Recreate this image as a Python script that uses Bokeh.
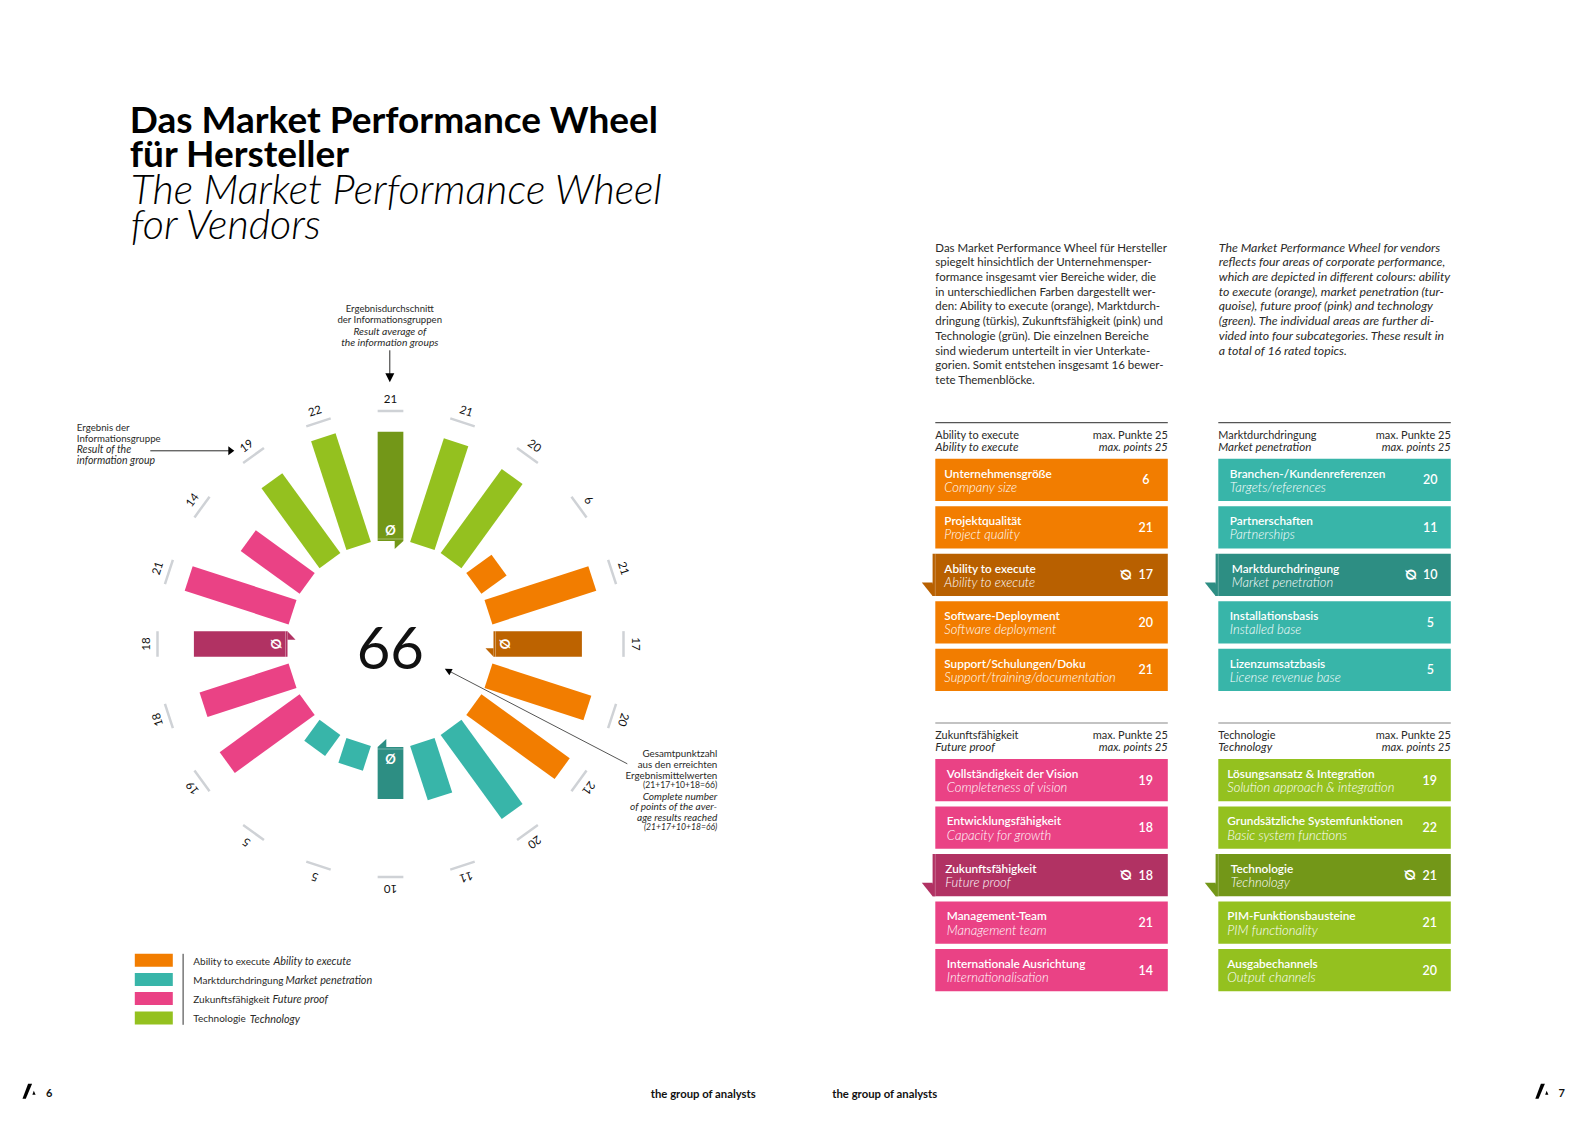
import math
from bokeh.plotting import figure
from bokeh.models import Range1d
from bokeh.core.properties import value
from bokeh.embed import file_html
from bokeh.resources import INLINE

# ---- data ----
wheel_values = [21, 21, 20, 6, 21, 17, 20, 21, 20, 11, 10, 5, 5, 19, 18, 18, 21, 14, 19, 22]
wheel_groups = ["T", "T", "T", "A", "A", "A", "A", "A", "M", "M", "M", "M", "M", "F", "F", "F", "F", "F", "T", "T"]
wheel_average = [True, False, False, False, False, True, False, False, False, False, True,
                 False, False, False, False, True, False, False, False, False]
total_score = "66"

group_colors = {"A": "#F27D00", "M": "#38B5A9", "F": "#EA4285", "T": "#94C11F"}
dark_colors = {"A": "#BD6300", "M": "#2D8E83", "F": "#B13263", "T": "#739718"}
table_dark = {"A": "#B86000", "M": "#2D8E83", "F": "#B13263", "T": "#739718"}

tables = [
    ("A", "Ability to execute", "Ability to execute",
     ["Unternehmensgröße", "Projektqualität", "Ability to execute", "Software-Deployment", "Support/Schulungen/Doku"],
     ["Company size", "Project quality", "Ability to execute", "Software deployment", "Support/training/documentation"],
     [6, 21, 17, 20, 21]),
    ("M", "Marktdurchdringung", "Market penetration",
     ["Branchen-/Kundenreferenzen", "Partnerschaften", "Marktdurchdringung", "Installationsbasis", "Lizenzumsatzbasis"],
     ["Targets/references", "Partnerships", "Market penetration", "Installed base", "License revenue base"],
     [20, 11, 10, 5, 5]),
    ("F", "Zukunftsfähigkeit", "Future proof",
     ["Vollständigkeit der Vision", "Entwicklungsfähigkeit", "Zukunftsfähigkeit", "Management-Team", "Internationale Ausrichtung"],
     ["Completeness of vision", "Capacity for growth", "Future proof", "Management team", "Internationalisation"],
     [19, 18, 18, 21, 14]),
    ("T", "Technologie", "Technology",
     ["Lösungsansatz & Integration", "Grundsätzliche Systemfunktionen", "Technologie", "PIM-Funktionsbausteine", "Ausgabechannels"],
     ["Solution approach & integration", "Basic system functions", "Technology", "PIM functionality", "Output channels"],
     [19, 22, 21, 21, 20]),
]

legend_de = ["Ability to execute", "Marktdurchdringung", "Zukunftsfähigkeit", "Technologie"]
legend_en = ["Ability to execute", "Market penetration", "Future proof", "Technology"]
legend_keys = ["A", "M", "F", "T"]

para_de = ["Das Market Performance Wheel für Hersteller", "spiegelt hinsichtlich der Unternehmensper-",
           "formance insgesamt vier Bereiche wider, die", "in unterschiedlichen Farben dargestellt wer-",
           "den: Ability to execute (orange), Marktdurch-", "dringung (türkis), Zukunftsfähigkeit (pink) und",
           "Technologie (grün). Die einzelnen Bereiche", "sind wiederum unterteilt in vier Unterkate-",
           "gorien. Somit entstehen insgesamt 16 bewer-", "tete Themenblöcke."]
para_en = ["The Market Performance Wheel for vendors", "reflects four areas of corporate performance,",
           "which are depicted in different colours: ability", "to execute (orange), market penetration (tur-",
           "quoise), future proof (pink) and technology", "(green). The individual areas are further di-",
           "vided into four subcategories. These result in", "a total of 16 rated topics."]

note_top = [("Ergebnisdurchschnitt", 0), ("der Informationsgruppen", 0), ("Result average of", 1), ("the information groups", 1)]
note_left = [("Ergebnis der", 0), ("Informationsgruppe", 0), ("Result of the", 1), ("information group", 1)]
note_right = [("Gesamtpunktzahl", 0), ("aus den erreichten", 0), ("Ergebnismittelwerten", 0), ("(21+17+10+18=66)", 0),
              ("Complete number", 1), ("of points of the aver-", 1), ("age results reached", 1), ("(21+17+10+18=66)", 1)]

# ---- page ----
LIGHT = "Lato Light"
REG = "Lato"
MED = "Lato Semibold"
INK = "#2a2a28"

p = figure(width=1571, height=1106, x_range=Range1d(0.7, 1571.7), y_range=Range1d(1106.7, 0.7),
           output_backend="svg", toolbar_location=None, min_border=0, background_fill_color="white")
p.axis.visible = False
p.grid.visible = False
p.outline_line_color = None


def T(x, y, text, size, font=REG, style="normal", color=INK, align="left", angle=0.0, dy=-1.0):
    p.text(x=[x], y=[y + dy], text=[text], text_font=value(font), text_font_size=f"{size}px",
           text_font_style=style, text_color=color, text_align=align, text_baseline="middle", angle=angle)


# ---- wheel ----
CX, CY = 390.7, 644.2
R0, UNIT, HALF = 103.0, 5.2, 12.85
R_TICK, R_LABEL = 233.0, 245.0


def polar(u, v, deg):
    a = math.radians(deg)
    return CX + u * math.sin(a) + v * math.cos(a), CY - u * math.cos(a) + v * math.sin(a)


xs, ys, cols = [], [], []
for i, (val, g, avg) in enumerate(zip(wheel_values, wheel_groups, wheel_average)):
    deg = 18.0 * i
    r1 = R0 + val * UNIT
    pts = [polar(R0, -HALF, deg), polar(r1, -HALF, deg), polar(r1, HALF, deg), polar(R0, HALF, deg)]
    xs.append([q[0] for q in pts])
    ys.append([q[1] for q in pts])
    cols.append(dark_colors[g] if avg else group_colors[g])
    if avg:
        fold = [polar(R0, 4.2, deg), polar(R0, HALF, deg), polar(R0 - 8, 4.2, deg)]
        xs.append([q[0] for q in fold])
        ys.append([q[1] for q in fold])
        cols.append(dark_colors[g])
p.patches(xs, ys, fill_color=cols, line_color=None)

for i, (val, g, avg) in enumerate(zip(wheel_values, wheel_groups, wheel_average)):
    deg = 18.0 * i
    t0, t1 = polar(R_TICK, -HALF, deg), polar(R_TICK, HALF, deg)
    p.line([t0[0], t1[0]], [t0[1], t1[1]], line_color="#CFD2D6", line_width=2.5)
    lab = polar(R_LABEL, 0, deg)
    T(lab[0], lab[1], str(val), 11.5, align="center", angle=-math.radians(deg), color="#111111", dy=0.0)
    if avg:
        a0, a1 = polar(R0 + 2, -HALF, deg), polar(R0 + 2, HALF, deg)
        p.line([a0[0], a1[0]], [a0[1], a1[1]], line_color="white", line_alpha=0.35, line_width=1)
        c = polar(R0 + 11.5, 0, deg)
        T(c[0], c[1], "Ø", 13, style="bold", color="white", align="center", angle=-math.radians(deg), dy=0.0)

T(390.5, 647.5, total_score, 58, color="#111111", align="center", dy=0.7)


def arrow(x0, y0, x1, y1, head=9.0, half=4.0, width=1.0):
    d = math.hypot(x1 - x0, y1 - y0)
    ux, uy = (x1 - x0) / d, (y1 - y0) / d
    p.line([x0, x1 - ux * head * 0.7], [y0, y1 - uy * head * 0.7], line_color=INK, line_width=width)
    p.patch([x1, x1 - ux * head - uy * half, x1 - ux * head + uy * half],
            [y1, y1 - uy * head + ux * half, y1 - uy * head - ux * half], fill_color="black", line_color=None)


# ---- annotations ----
for (s, it), y in zip(note_top, [310, 321, 332, 343]):
    T(390, y, s, 10.3 if it else 9.6, style="italic" if it else "normal", align="center")
arrow(390, 350.5, 390, 382.5, head=9, half=4.5)
for (s, it), y in zip(note_left, [428.5, 439.5, 450.5, 461.5]):
    T(77, y, s, 10.5 if it else 9.7, style="italic" if it else "normal")
arrow(150.5, 451, 234.5, 451, head=6, half=4.5)
for (s, it), y in zip(note_right, [754, 765, 776, 786.5, 797, 807.5, 818, 828.5]):
    size = 8.6 if s.startswith("(") else (10.1 if it else 9.8)
    T(717.5, y, s, size, style="italic" if it else "normal", align="right")
arrow(627.5, 764, 445, 669, head=7, half=3.5, width=0.8)

# ---- title ----
T(130, 120, "Das Market Performance Wheel", 37, style="bold", color="#000000")
T(130, 154, "für Hersteller", 37, style="bold", color="#000000")
T(131, 189.5, "The Market Performance Wheel", 41.3, font=LIGHT, style="italic", color="#000000")
T(131, 224, "for Vendors", 41.3, font=LIGHT, style="italic", color="#000000")

# ---- paragraphs ----
for i, s in enumerate(para_de):
    T(935.5, 248.3 + 14.7 * i, s, 11.5)
for i, s in enumerate(para_en):
    T(1219, 248.3 + 14.7 * i, s, 12.3, style="italic")

# ---- tables ----
COLS = [(935.5, 1168.0), (1218.5, 1451.0)]
TOPS = [422.9, 723.2]
text_x = {"A": (944.5, 944.5), "M": (1230.0, 1232.0), "F": (947.0, 945.5), "T": (1227.5, 1231.0)}
val_x = {"A": 1146.0, "M": 1430.5, "F": 1146.0, "T": 1430.0}
for k, (g, de, en, rows_de, rows_en, vals) in enumerate(tables):
    x0, x1 = COLS[k % 2]
    top = TOPS[k // 2]
    p.line([x0, x1], [top, top], line_color="#555555" if k < 2 else "#888888", line_width=1.2)
    T(x0, top + 12.5, de, 10.9)
    T(x0, top + 24.8, en, 11.6, style="italic")
    T(x1, top + 12.5, "max. Punkte 25", 11, align="right")
    T(x1, top + 24.8, "max. points 25", 11.2, style="italic", align="right")
    for j in range(5):
        yt = top + 36 + 47.5 * j
        yb = yt + 42.3
        avg = j == 2
        col = table_dark[g] if avg else group_colors[g]
        lx = x0 - 2.7 if avg else x0
        p.quad(left=[lx], right=[x1], top=[yt], bottom=[yb], fill_color=col, line_color=None)
        if avg:
            p.patch([x0 - 13.5, x0 - 2.7, x0, x0 - 2.7], [yb - 13.6, yb - 13.6, yb, yb], fill_color=col, line_color=None)
            p.line([x0, x0], [yt, yb], line_color="white", line_alpha=0.25, line_width=1)
        tx = text_x[g][1 if avg else 0]
        T(tx, yt + 15.4, rows_de[j], 11.8, font=MED, color="white")
        T(tx, yt + 29, rows_en[j], 13, font=LIGHT, style="italic", color="white")
        T(val_x[g], yt + 21.5, str(vals[j]), 12.5, font=MED, color="white", align="center")
        if avg:
            T(val_x[g] - 19, yt + 22, "Ø", 14, style="bold", color="white", align="center", angle=math.radians(-90))

# ---- legend ----
leg_y = [954, 973.3, 992.3, 1011.7]
leg_it = [273.7, 285.7, 272.7, 250.0]
for key, de, en, y, xi in zip(legend_keys, legend_de, legend_en, leg_y, leg_it):
    p.quad(left=[135], right=[173], top=[y], bottom=[y + 13], fill_color=group_colors[key], line_color=None)
    T(193.5, y + 7.8, de, 10)
    T(xi, y + 7.8, en, 10.8, style="italic")
p.line([183.3, 183.3], [954, 1025], line_color="#333333", line_width=1)

# ---- footer ----
for dx in (0.0, 1512.8):
    p.patch([28.3 + dx, 32.3 + dx, 26 + dx, 22.7 + dx], [1084, 1084, 1099, 1099], fill_color="black", line_color=None)
    p.patch([34 + dx, 35.8 + dx, 32.6 + dx], [1091, 1095, 1095], fill_color="black", line_color=None)
T(49.3, 1094, "6", 11, style="bold", color="#111111", align="center")
T(1562, 1094, "7", 11, style="bold", color="#111111", align="center")
T(651, 1095, "the group of analysts", 11.3, style="bold", color="#111111")
T(832.5, 1095, "the group of analysts", 11.3, style="bold", color="#111111")

open("out.html", "w").write(file_html(p, INLINE))
